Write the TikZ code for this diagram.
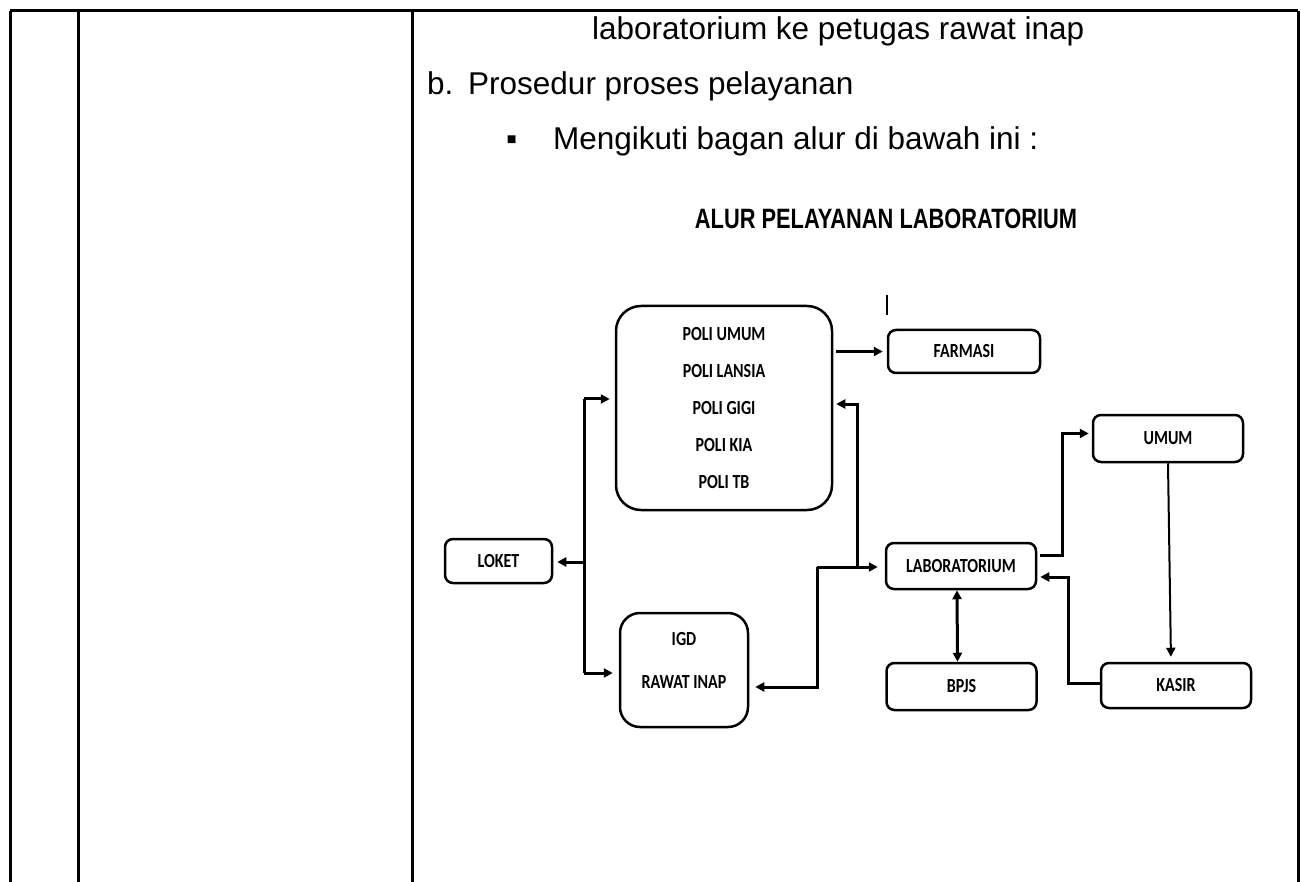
\documentclass[tikz,border=0pt]{standalone}
\usepackage{fontspec}
\setmainfont{Liberation Sans}
\newfontfamily\boxfont{Carlito}
\usepackage{tikz}
\usetikzlibrary{arrows.meta, positioning}

\newcommand{\narrow}[1]{\scalebox{0.8}[1]{#1}}
\tikzset{
	box/.style={draw, line width=2.5pt, rounded corners=8pt, minimum width=150pt, minimum height=46pt, inner sep=0pt, font=\boxfont\bfseries\fontsize{20}{24}\selectfont},
	wire/.style={line width=3pt},
	arr/.style={wire, -{Triangle[length=9pt, width=9pt]}},
	dbl/.style={wire, {Triangle[length=9pt, width=9pt]}-{Triangle[length=9pt, width=9pt]}},
	body/.style={anchor=base west, inner sep=0pt, font=\fontsize{31.5}{38}\selectfont},
	rule/.style={line width=3pt}
}

\begin{document}
\begin{tikzpicture}[x=1pt, y=-1pt]
		\useasboundingbox (0,0) rectangle (1301,882);
		% Table frame:
		\draw[rule] (10,11) -- (1298,11);
		\foreach \xc in {10, 78, 412, 1298}
			\draw[rule] (\xc,11) -- (\xc,882);
		% Text lines:
		\node[body] (line1) at (592,40) {laboratorium ke petugas rawat inap};
		\node[body] (itemb) at (427,95) {b.};
		\node[body] (line2) at (468,95) {Prosedur proses pelayanan};
		\node[body] (bullet) at (506,150) {▪};
		\node[body] (line3) at (553,150) {Mengikuti bagan alur di bawah ini :};
		\node[inner sep=0pt, font=\bfseries\fontsize{28}{32}\selectfont] (title) at (886,219) {\scalebox{0.78}[1]{ALUR PELAYANAN LABORATORIUM}};
		% Boxes:
		\node[box, minimum width=216pt, minimum height=204pt, rounded corners=25pt, align=center, font=\boxfont\bfseries\fontsize{20}{37}\selectfont] (poli) at (724,408) {\narrow{POLI UMUM}\\\narrow{POLI LANSIA}\\\narrow{POLI GIGI}\\\narrow{POLI KIA}\\\narrow{POLI TB}};
		\node[box, minimum width=107pt, minimum height=44pt] (loket) at (498.5,561) {\narrow{LOKET}};
		\node[box, minimum width=128pt, minimum height=114pt, rounded corners=20pt] (igd) at (684,670) {};
		\node[inner sep=0pt, align=center, font=\boxfont\bfseries\fontsize{20}{43}\selectfont] (igdtext) at (684,660) {\narrow{IGD}\\\narrow{RAWAT INAP}};
		\node[box, minimum width=152pt, minimum height=43pt] (farmasi) at (964,351.5) {\narrow{FARMASI}};
		\node[box] (lab) at (961,566) {\narrow{LABORATORIUM}};
		\node[box, minimum height=47pt] (umum) at (1168,438.5) {\narrow{UMUM}};
		\node[box, minimum height=47pt] (bpjs) at (961.5,686.5) {\narrow{BPJS}};
		\node[box, minimum height=45pt] (kasir) at (1176,685.5) {\narrow{KASIR}};
		% Wires left:
		\coordinate (jtop) at (584,399);
		\coordinate (jmid) at (584,562);
		\coordinate (jbot) at (584,673);
		\draw[wire] (jtop) -- (jbot);
		\draw[arr, shorten >=4pt] (jmid) -- (loket.east |- jmid);
		\draw[arr, shorten >=5pt] (jtop) -- (poli.west |- jtop);
		\draw[arr, shorten >=6pt] (jbot) -- (igd.west |- jbot);
		% Wires centre:
		\coordinate (jlow) at (817,567);
		\coordinate (jup) at (857,567);
		\draw[arr, shorten >=6pt] (jlow) |- (igd.east |- 0,687);
		\draw[arr, shorten >=7pt] (jlow) -- (lab.west |- jlow);
		\draw[arr, shorten >=3pt] (jup) |- (poli.east |- 0,404);
		\draw[arr, shorten <=3pt, shorten >=4pt] (poli.east |- farmasi) -- (farmasi);
		% Wires right:
		\draw[arr, shorten <=3pt, shorten >=3pt] ([yshift=11pt]lab.east) -- ++(25,0) |- ([yshift=5pt]umum.west);
		\draw[arr, line width=2pt, shorten >=5pt] (umum.south) -- ([xshift=-5pt]kasir.north);
		\draw[arr, shorten >=3pt] ([yshift=2pt]kasir.west) -- ++(-31,0) |- ([yshift=-11pt]lab.east);
		\draw[dbl] ([xshift=-4pt]lab.south) -- ([xshift=-4pt]bpjs.north);
		% Cursor mark:
		\draw[line width=1.2pt] (887,295) -- (887,315);
	\end{tikzpicture}
\end{document}
